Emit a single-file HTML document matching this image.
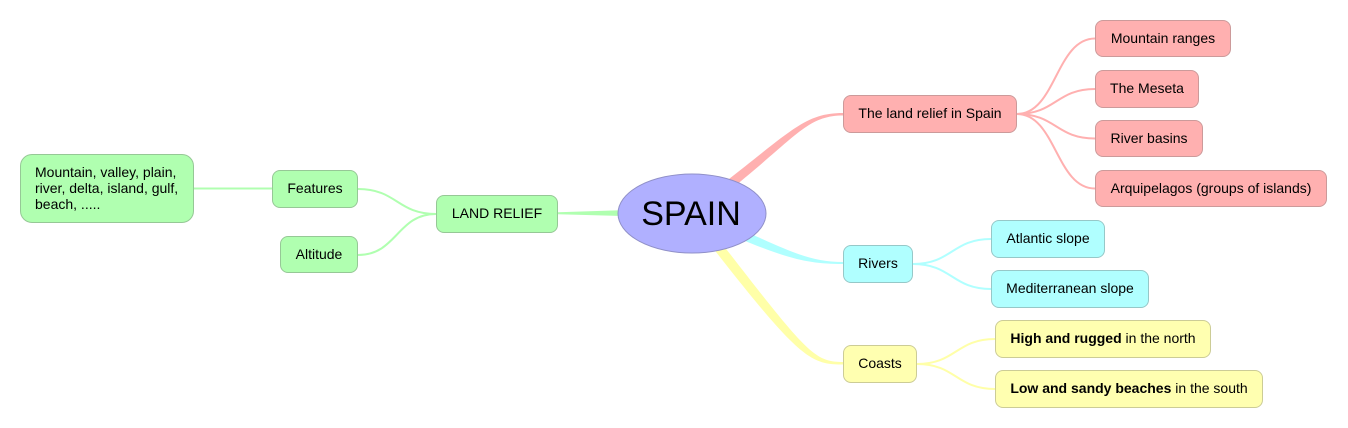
<!DOCTYPE html>
<html>
<head>
<meta charset="utf-8">
<style>
  html, body { margin:0; padding:0; background:#fff; }
  body { width:1348px; height:428px; position:relative; overflow:hidden;
         font-family:"Liberation Sans", Arial, Helvetica, sans-serif; font-size:14px; color:#000; }
  svg { position:absolute; left:0; top:0; }
  .n { position:absolute; box-sizing:border-box; border:1px solid; border-radius:8px;
       display:flex; align-items:center; justify-content:center; white-space:nowrap; line-height:16px; padding-bottom:2px; }
  .r { background:#ffb0b0; border-color:#cc9a9a; }
  .c { background:#b0ffff; border-color:#96c8c8; }
  .y { background:#ffffb0; border-color:#cccc96; }
  .g { background:#b0ffb0; border-color:#96c896; }
  b { font-weight:bold; }
</style>
</head>
<body>
<svg width="1348" height="428" viewBox="0 0 1348 428">
  <!-- thick tapered main connectors -->
  <path d="M 692 207 C 788 136, 800 113, 843 113 L 843 115.5 C 801 115.5, 793 145, 692 219 Z" fill="#ffb0b0"/>
  <path d="M 692 208 C 782 246, 802 262, 843 262 L 843 264 C 800 264, 778 256, 692 218 Z" fill="#b0ffff"/>
  <path d="M 696 210 C 806 352, 812 362, 843 362 L 843 364.5 C 808 364.5, 798 358, 688 216 Z" fill="#ffffa8"/>
  <path d="M 558 212.2 L 692 208 L 692 218 L 558 214.2 Z" fill="#b0ffb0"/>

  <!-- thin connectors -->
  <g fill="none" stroke-width="2">
    <g stroke="#ffb0b0">
      <path d="M 1017 114 C 1056 114, 1056 38.5, 1095 38.5"/>
      <path d="M 1017 114 C 1056 114, 1056 89, 1095 89"/>
      <path d="M 1017 114 C 1056 114, 1056 138.5, 1095 138.5"/>
      <path d="M 1017 114 C 1056 114, 1056 188.5, 1095 188.5"/>
    </g>
    <g stroke="#b0ffff">
      <path d="M 913 264 C 952 264, 952 239, 991 239"/>
      <path d="M 913 264 C 952 264, 952 289, 991 289"/>
    </g>
    <g stroke="#ffffa8">
      <path d="M 917 364 C 956 364, 956 339, 995 339"/>
      <path d="M 917 364 C 956 364, 956 389, 995 389"/>
    </g>
    <g stroke="#b0ffb0">
      <path d="M 436 214 C 397 214, 397 189, 358 189"/>
      <path d="M 436 214 C 397 214, 397 255, 358 255"/>
      <path d="M 194 188.5 L 272 188.5"/>
    </g>
  </g>

  <ellipse cx="692" cy="213.5" rx="74" ry="39.5" fill="#b0b0ff" stroke="#9090c8" stroke-width="1"/>
  <text x="691" y="225" text-anchor="middle" font-family="Liberation Sans, Arial, sans-serif" font-size="34">SPAIN</text>
</svg>

<!-- red -->
<div class="n r" style="left:843px;top:95px;width:174px;height:38px;">The land relief in Spain</div>
<div class="n r" style="left:1095px;top:20px;width:136px;height:37px;">Mountain ranges</div>
<div class="n r" style="left:1095px;top:70px;width:104px;height:38px;">The Meseta</div>
<div class="n r" style="left:1095px;top:120px;width:108px;height:37px;">River basins</div>
<div class="n r" style="left:1095px;top:170px;width:232px;height:37px;">Arquipelagos (groups of islands)</div>

<!-- cyan -->
<div class="n c" style="left:843px;top:245px;width:70px;height:38px;">Rivers</div>
<div class="n c" style="left:991px;top:220px;width:114px;height:38px;">Atlantic slope</div>
<div class="n c" style="left:991px;top:270px;width:158px;height:38px;">Mediterranean slope</div>

<!-- yellow -->
<div class="n y" style="left:843px;top:345px;width:74px;height:38px;">Coasts</div>
<div class="n y" style="left:995px;top:320px;width:216px;height:38px;"><span><b>High and rugged</b> in the north</span></div>
<div class="n y" style="left:995px;top:370px;width:268px;height:38px;"><span><b>Low and sandy beaches</b> in the south</span></div>

<!-- green -->
<div class="n g" style="left:436px;top:195px;width:122px;height:38px;">LAND RELIEF</div>
<div class="n g" style="left:272px;top:170px;width:86px;height:38px;">Features</div>
<div class="n g" style="left:280px;top:236px;width:78px;height:37px;">Altitude</div>
<div class="n g" style="left:20px;top:154px;width:174px;height:69px;border-radius:12px;justify-content:flex-start;padding-left:14px;">
  <div>Mountain, valley, plain,<br>river, delta, island, gulf,<br>beach, .....</div>
</div>
</body>
</html>
